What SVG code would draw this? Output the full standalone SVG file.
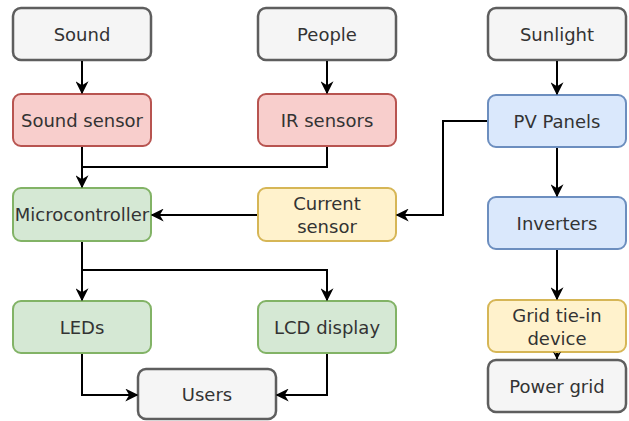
<svg xmlns="http://www.w3.org/2000/svg" width="629" height="421" viewBox="0 0 629 421">
<style>
.n rect{stroke-width:2}
.g rect{fill:#f5f5f5;stroke:#5e5e5e;stroke-width:2.5}
.r rect{fill:#f8cecc;stroke:#b85450}
.b rect{fill:#dae8fc;stroke:#6c8ebf}
.y rect{fill:#fff2cc;stroke:#d6b656}
.gr rect{fill:#d5e8d4;stroke:#82b366}
text{font-family:"DejaVu Sans",Verdana,sans-serif;font-size:18px;fill:#333;text-anchor:middle}
.c path{fill:none;stroke:#000;stroke-width:2}
</style>
<defs>
<marker id="a" viewBox="0 0 10 10" refX="9" refY="5" markerWidth="6.5" markerHeight="6.5" orient="auto" markerUnits="strokeWidth">
<path d="M0,0 L10,5 L0,10 L3,5 Z" fill="#000"/>
</marker>
<marker id="s" viewBox="0 0 10 10" refX="9" refY="5" markerWidth="4" markerHeight="5" orient="auto" markerUnits="strokeWidth">
<path d="M0,0 L10,5 L0,10 L3,5 Z" fill="#000"/>
</marker>
</defs>
<rect width="629" height="421" fill="#fff"/>
<g id="sound" class="n g"><rect x="13" y="8" width="138" height="52" rx="8"/><text x="82" y="41">Sound</text></g>
<g id="people" class="n g"><rect x="258" y="8" width="138" height="52" rx="8"/><text x="327" y="41">People</text></g>
<g id="sunlight" class="n g"><rect x="488" y="8" width="138" height="52" rx="8"/><text x="557" y="41">Sunlight</text></g>
<g id="soundsensor" class="n r"><rect x="13" y="94" width="138" height="52" rx="8"/><text x="82" y="127">Sound sensor</text></g>
<g id="irsensors" class="n r"><rect x="258" y="94" width="138" height="52" rx="8"/><text x="327" y="127">IR sensors</text></g>
<g id="pvpanels" class="n b"><rect x="488" y="95" width="138" height="52" rx="8"/><text x="557" y="128">PV Panels</text></g>
<g id="microcontroller" class="n gr"><rect x="13" y="188" width="138" height="53" rx="8"/><text x="82" y="221">Microcontroller</text></g>
<g id="currentsensor" class="n y"><rect x="258" y="188" width="138" height="53" rx="8"/><text x="327" y="210">Current</text><text x="327" y="233">sensor</text></g>
<g id="inverters" class="n b"><rect x="488" y="197" width="138" height="52" rx="8"/><text x="557" y="230">Inverters</text></g>
<g id="leds" class="n gr"><rect x="13" y="301" width="138" height="52" rx="8"/><text x="82" y="334">LEDs</text></g>
<g id="lcd" class="n gr"><rect x="258" y="301" width="138" height="52" rx="8"/><text x="327" y="334">LCD display</text></g>
<g id="gridtie" class="n y"><rect x="488" y="300" width="138" height="52" rx="8"/><text x="557" y="322">Grid tie-in</text><text x="557" y="345">device</text></g>
<g id="users" class="n g"><rect x="138" y="369" width="138" height="50" rx="8"/><text x="207" y="401">Users</text></g>
<g id="powergrid" class="n g"><rect x="488" y="360" width="138" height="52" rx="8"/><text x="557" y="393">Power grid</text></g>
<g class="c">
<path d="M82,61 V93" marker-end="url(#a)"/>
<path d="M327,61 V93" marker-end="url(#a)"/>
<path d="M557,61 V94" marker-end="url(#a)"/>
<path d="M82,147 V187" marker-end="url(#a)"/>
<path d="M327,147 V167 H82"/>
<path d="M487,121 H443 V215 H397" marker-end="url(#a)"/>
<path d="M257,215 H152" marker-end="url(#a)"/>
<path d="M82,242 V300" marker-end="url(#a)"/>
<path d="M82,270 H327 V300" marker-end="url(#a)"/>
<path d="M82,354 V395 H137" marker-end="url(#a)"/>
<path d="M327,354 V395 H277" marker-end="url(#a)"/>
<path d="M557,148 V196" marker-end="url(#a)"/>
<path d="M557,250 V299" marker-end="url(#a)"/>
<path d="M557,353 V359" marker-end="url(#s)"/>
</g>
</svg>
